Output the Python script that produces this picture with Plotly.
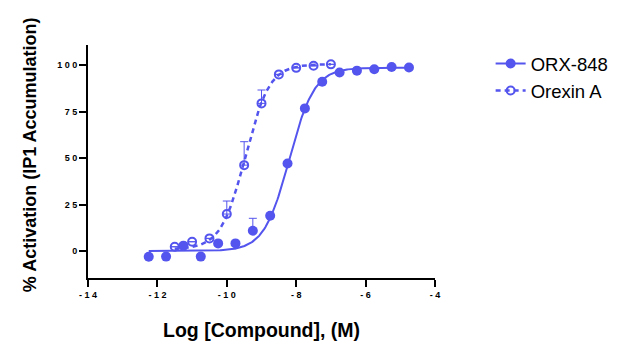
import numpy as np
import plotly.graph_objects as go

# ORX-848 data
orx_x = [-12.25, -11.75, -11.25, -10.75, -10.25, -9.75, -9.25, -8.75, -8.25, -7.75,
         -7.25, -6.75, -6.25, -5.75, -5.25, -4.75]
orx_y = [-3.1, -3.0, 2.9, -3.0, 4.1, 4.1, 10.9, 19.0, 47.1, 76.7,
         91.0, 96.0, 97.0, 97.8, 99.0, 98.7]
orx_err = [0, 0, 0, 0, 0, 0, 6.7, 0, 0, 0, 0, 0, 0, 0, 0, 0]

# Orexin A data
orexin_x = [-11.5, -11.0, -10.5, -10.0, -9.5, -9.0, -8.5, -8.0, -7.5, -7.0]
orexin_y = [2.3, 5.0, 6.8, 19.9, 46.2, 79.4, 95.0, 98.5, 99.6, 100.4]
orexin_err = [0, 0, 0, 7.0, 12.6, 7.2, 0, 0, 0, 0]

# 4-parameter logistic fit parameters (bottom, top, logEC50, hill)
orx_fit = (0.0, 98.6, -8.2, 1.2)
orexin_fit = (1.0, 100.5, -9.47, 1.25)

x_ticks = [-14, -12, -10, -8, -6, -4]
x_ticktext = ["- 1 4", "- 1 2", "- 1 0", "- 8", "- 6", "- 4"]
y_ticks = [0, 25, 50, 75, 100]
y_ticktext = ["0", "2 5", "5 0", "7 5", "1 0 0"]

color = "rgb(84,84,238)"


def fourpl(x, p):
    b, t, ec, h = p
    return b + (t - b) / (1 + 10 ** ((ec - x) * h))


fig = go.Figure()

xc1 = np.linspace(min(orx_x), max(orx_x), 300)
fig.add_trace(go.Scatter(x=xc1, y=fourpl(xc1, orx_fit), mode="lines",
                         line=dict(color=color, width=2), showlegend=False, hoverinfo="skip"))
xc2 = np.linspace(min(orexin_x), max(orexin_x), 300)
fig.add_trace(go.Scatter(x=xc2, y=fourpl(xc2, orexin_fit), mode="lines",
                         line=dict(color=color, width=2.5, dash="5px,4px"), showlegend=False, hoverinfo="skip"))

fig.add_trace(go.Scatter(
    x=orx_x, y=orx_y, mode="markers", name="ORX-848",
    marker=dict(symbol="circle", size=10, color=color),
    error_y=dict(type="data", array=orx_err, arrayminus=[0] * len(orx_err), symmetric=False,
                 color=color, thickness=1, width=4),
    showlegend=False))
fig.add_trace(go.Scatter(
    x=orexin_x, y=orexin_y, mode="markers", name="Orexin A",
    marker=dict(symbol="circle-open", size=8, color=color, line=dict(width=2, color=color)),
    error_y=dict(type="data", array=orexin_err, arrayminus=[0] * len(orexin_err), symmetric=False,
                 color=color, thickness=1, width=4),
    showlegend=False))

# legend entries
fig.add_trace(go.Scatter(x=[None], y=[None], mode="lines+markers", name="ORX-848",
                         line=dict(color=color, width=2),
                         marker=dict(symbol="circle", size=10, color=color)))
fig.add_trace(go.Scatter(x=[None], y=[None], mode="lines+markers", name="Orexin A",
                         line=dict(color=color, width=2.5, dash="5px,4px"),
                         marker=dict(symbol="circle-open", size=8, color=color, line=dict(width=2, color=color))))

axis_font = dict(family="Liberation Sans, Arial", size=9, color="black", weight="bold")
fam = "Liberation Sans, Arial"

fig.update_layout(
    width=624, height=358,
    margin=dict(l=88, r=188, t=45, b=80),
    plot_bgcolor="white", paper_bgcolor="white",
    xaxis=dict(range=[-14, -4], tickvals=x_ticks, ticktext=x_ticktext, automargin=False,
               showline=True, linecolor="black", linewidth=2, ticks="outside",
               ticklen=7, tickwidth=2, tickcolor="black", showgrid=False, zeroline=False,
               tickfont=axis_font),
    yaxis=dict(range=[-14.5, 110.8], tickvals=y_ticks, ticktext=y_ticktext, automargin=False,
               showline=True, linecolor="black", linewidth=2, ticks="outside",
               ticklen=7, tickwidth=2, tickcolor="black", showgrid=False, zeroline=False,
               tickfont=axis_font),
    legend=dict(x=1.157, y=1.0, xanchor="left", yanchor="top",
                font=dict(family=fam, size=18.5, color="black"),
                bgcolor="rgba(0,0,0,0)", tracegroupgap=4),
    annotations=[
        dict(text="<b>Log [Compound], (M)</b>", xref="paper", yref="paper",
             x=0.5, y=-0.223, xanchor="center", yanchor="middle", showarrow=False,
             font=dict(family=fam, size=19.5, color="black")),
        dict(text="<b>% Activation (IP1 Accumulation)</b>", xref="paper", yref="paper",
             x=-0.1667, y=0.528, xanchor="center", yanchor="middle", showarrow=False,
             textangle=-90, font=dict(family=fam, size=18, color="black")),
    ],
)

fig.write_html("out.html", config={"displayModeBar": False},
               post_script="document.body.style.margin='0';")
